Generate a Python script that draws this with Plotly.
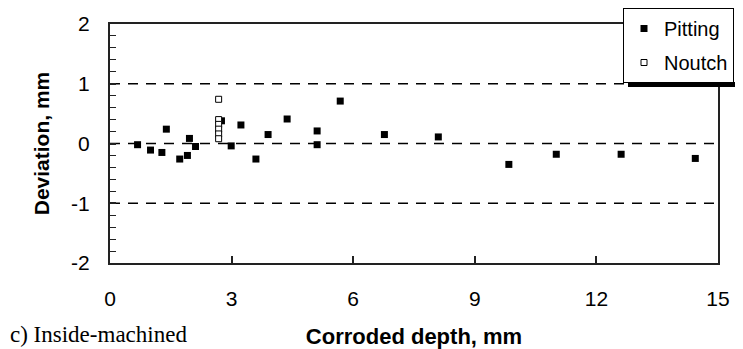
import plotly.graph_objects as go

# Data
pitting_depth = [0.68, 1.00, 1.28, 1.39, 1.72, 1.91, 1.96, 2.11, 2.75, 2.99, 3.23, 3.60, 3.90,
                 4.37, 5.11, 5.11, 5.68, 6.77, 8.10, 9.84, 11.01, 12.61, 14.44]
pitting_dev = [-0.02, -0.11, -0.15, 0.24, -0.26, -0.20, 0.085, -0.05, 0.38, -0.04, 0.31, -0.26, 0.15,
               0.41, 0.21, -0.02, 0.71, 0.15, 0.11, -0.35, -0.18, -0.18, -0.25]
noutch_depth = [2.68, 2.68, 2.68, 2.68, 2.68, 2.68]
noutch_dev = [0.74, 0.40, 0.32, 0.24, 0.16, 0.08]
ref_levels = [1, 0, -1]
x_ticks = [0, 3, 6, 9, 12, 15]
y_ticks = [-2, -1, 0, 1, 2]

FONT = "Liberation Sans, Arial, sans-serif"
W, H = 743, 349
OFF = 8  # page body margin
L, T = 110 - OFF, 24 - OFF
R = W - (718 - OFF)
B = H - (263 - OFF)
PW, PH = W - L - R, H - T - B


def px(xs):  # screen x -> paper
    return (xs - OFF - L) / PW


def py(ys):  # screen y -> paper
    return (H - B - (ys - OFF)) / PH


fig = go.Figure()
fig.add_trace(go.Scatter(
    x=pitting_depth, y=pitting_dev, mode="markers", name="Pitting", legendgroup="a",
    marker=dict(symbol="square", size=7, color="black", line=dict(width=0)),
))
fig.add_trace(go.Scatter(
    x=noutch_depth, y=noutch_dev, mode="markers", name="Noutch", legendgroup="b",
    marker=dict(symbol="square", size=6, color="white", line=dict(width=1, color="black")),
))

for lv in ref_levels:
    fig.add_shape(type="line", xref="paper", x0=0, x1=1, yref="y", y0=lv, y1=lv,
                  line=dict(color="black", width=1.6, dash="10px,8px"), layer="below")

# legend drop shadow (two black strips right of and below the legend box)
for sx, sy, sw, sh in [(735, 13, 5, 74), (628, 82, 112, 5)]:
    fig.add_annotation(text=" ", xref="paper", yref="paper", x=px(sx), y=py(sy),
                       xanchor="left", yanchor="top", width=sw, height=sh,
                       bgcolor="black", borderpad=0, borderwidth=0, showarrow=False,
                       font=dict(size=2))

fig.update_layout(
    width=W, height=H,
    margin=dict(l=L, r=R, t=T, b=B, autoexpand=False),
    paper_bgcolor="white", plot_bgcolor="white",
    font=dict(family=FONT, color="black", size=21),
    showlegend=True,
    legend=dict(
        xref="container", yref="container",
        x=(734 - OFF) / W, y=1, xanchor="right", yanchor="top",
        bgcolor="white", bordercolor="black", borderwidth=1,
        font=dict(family=FONT, size=20, color="black"),
        itemwidth=30, tracegroupgap=5, traceorder="grouped",
    ),
    xaxis=dict(
        range=[0, 15], tickvals=x_ticks, ticktext=[str(v) for v in x_ticks],
        ticks="inside", ticklen=7, tickwidth=1.5, tickcolor="#222",
        showline=True, linecolor="#222", linewidth=2, mirror=True,
        showgrid=False, zeroline=False, ticklabelstandoff=16, automargin=False,
        tickfont=dict(size=21),
        title=dict(text="<b>Corroded depth, mm</b>", font=dict(family=FONT, size=22), standoff=19),
    ),
    yaxis=dict(
        range=[-2, 2], tickvals=y_ticks, ticktext=[str(v) for v in y_ticks],
        ticks="inside", ticklen=6, tickwidth=1.5, tickcolor="#222",
        minor=dict(dtick=0.2, ticks="inside", ticklen=6, tickwidth=1.2, tickcolor="#222"),
        showline=True, linecolor="#222", linewidth=2, mirror=True,
        showgrid=False, zeroline=False, ticklabelstandoff=14, automargin=False,
        tickfont=dict(size=21),
        title=dict(text="<b>Deviation, mm</b>", font=dict(family=FONT, size=21), standoff=16),
    ),
)

fig.add_annotation(text="c) Inside-machined", xref="paper", yref="paper",
                   x=px(8), y=py(334), xanchor="left", yanchor="middle",
                   showarrow=False, font=dict(family="Liberation Serif, Times New Roman, serif", size=23))

fig.write_html("out.html")
